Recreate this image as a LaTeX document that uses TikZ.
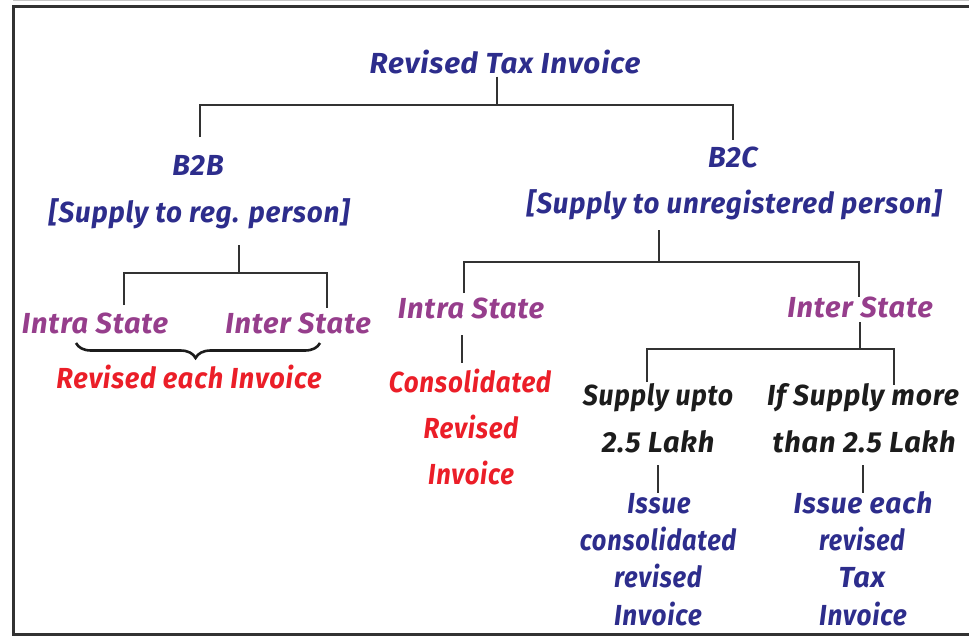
\documentclass[tikz,border=0pt]{standalone}
\usepackage{fontspec}
\setmainfont{Fira Sans}[LetterSpace=3]
\usetikzlibrary{decorations.pathreplacing}
\definecolor{tblue}{RGB}{45,45,140}
\definecolor{tpurple}{RGB}{150,62,140}
\definecolor{tred}{RGB}{235,30,40}
\definecolor{tblack}{RGB}{28,28,28}
\definecolor{tline}{RGB}{50,50,50}
\newcommand{\hsq}[2]{\scalebox{#1}[1]{#2}}
\begin{document}
\begin{tikzpicture}[x=1pt,y=-1pt,
  lbl/.style={inner sep=0pt, anchor=base, font=\fontsize{29}{32}\selectfont\bfseries\itshape},
  bl/.style={lbl, text=tblue},
  pu/.style={lbl, text=tpurple},
  rd/.style={lbl, text=tred},
  bk/.style={lbl, text=tblack},
  conn/.style={draw=tline, line width=2.2pt},
  frame/.style={draw=tline, line width=3pt}]
\useasboundingbox (0,0) rectangle (969,638);
% frame
\draw[gray!45, line width=1pt] (13,0.7) -- (969,0.7);
\draw[frame] (969,6) -- (13,6) -- (13,634) -- (969,634);
% nodes
\node[bl] (title) at (505,73) {\hsq{1.02}{Revised Tax Invoice}};
\node[bl] (b2b) at (198,175) {B2B};
\node[bl] (b2bs) at (199,222) {\hsq{0.96}{[Supply to reg. person]}};
\node[bl] (b2c) at (733,167) {B2C};
\node[bl] (b2cs) at (734,213) {\hsq{0.956}{[Supply to unregistered person]}};
\node[pu] (lintra) at (95,333) {Intra State};
\node[pu] (linter) at (298,333) {Inter State};
\node[rd] (rev) at (189,388) {\hsq{0.936}{Revised each Invoice}};
\node[pu] (rintra) at (471,318) {Intra State};
\node[pu] (rinter) at (860,317) {Inter State};
\node[rd] (cons1) at (470,392) {\hsq{0.895}{Consolidated}};
\node[rd] (cons2) at (471,438) {\hsq{0.89}{Revised}};
\node[rd] (cons3) at (471,484) {\hsq{0.88}{Invoice}};
\node[bk] (upto1) at (658,405) {\hsq{0.92}{Supply upto}};
\node[bk] (upto2) at (658,452) {2.5 Lakh};
\node[bk] (more1) at (863,405) {\hsq{0.975}{If Supply more}};
\node[bk] (more2) at (864,452) {than 2.5 Lakh};
\node[bl] (iss1) at (659,513) {\hsq{0.89}{Issue}};
\node[bl] (iss2) at (658,550) {\hsq{0.876}{consolidated}};
\node[bl] (iss3) at (658,587) {\hsq{0.88}{revised}};
\node[bl] (iss4) at (658,625) {\hsq{0.9}{Invoice}};
\node[bl] (each1) at (863,513) {\hsq{0.97}{Issue each}};
\node[bl] (each2) at (862,550) {\hsq{0.86}{revised}};
\node[bl] (each3) at (862,587) {Tax};
\node[bl] (each4) at (863,625) {\hsq{0.9}{Invoice}};
% junction coordinates
\coordinate (j0) at (497,105);
\coordinate (jb2b) at (200,105);
\coordinate (jb2c) at (733,105);
\coordinate (j1) at (239,273);
\coordinate (j1l) at (124,273);
\coordinate (j1r) at (327,273);
\coordinate (j2) at (659,262);
\coordinate (j2l) at (464,262);
\coordinate (j2r) at (859,262);
\coordinate (j3) at (860,349);
\coordinate (j3l) at (647,349);
\coordinate (j3r) at (894,349);
% connectors
\draw[conn] (j0 |- title.south) ++(0,3) -- (j0);
\draw[conn] (jb2b |- 0,137) -- (jb2b) -- (jb2c) -- (jb2c |- 0,140);
\draw[conn] (j1 |- 0,245) -- (j1);
\draw[conn] (j1l |- 0,305) -- (j1l) -- (j1r) -- (j1r |- 0,308);
\draw[conn] (j2 |- 0,230) -- (j2);
\draw[conn] (j2l |- 0,293) -- (j2l) -- (j2r) -- (j2r |- 0,297);
\draw[conn] (462,335) -- (462,363);
\draw[conn] (j3 |- 0,322) -- (j3);
\draw[conn] (j3l |- 0,382) -- (j3l) -- (j3r) -- (j3r |- 0,385);
\draw[conn] (658,465) -- (658,493);
\draw[conn] (863,465) -- (863,493);
% brace
\draw[tblack, line width=2.6pt, decorate, decoration={brace, mirror, amplitude=15pt, aspect=0.49}] (76,343) -- (320,343);
\end{tikzpicture}
\end{document}
